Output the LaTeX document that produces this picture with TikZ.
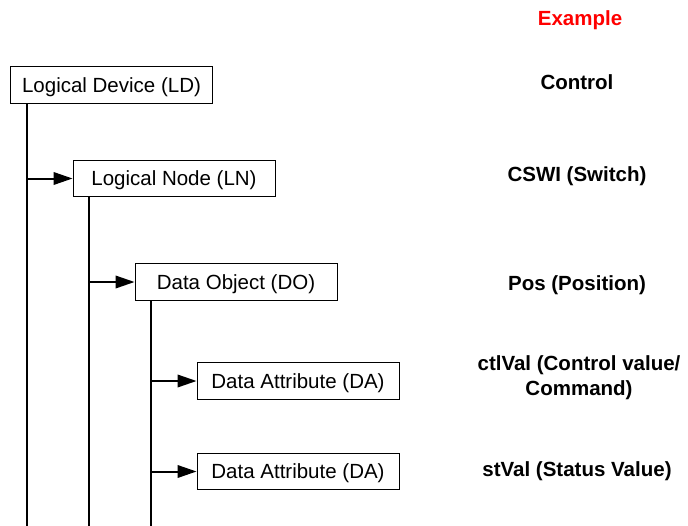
\documentclass[tikz,border=0pt]{standalone}
\usepackage{fontspec}
\setmainfont{Liberation Sans}
\usetikzlibrary{arrows.meta}
\definecolor{exred}{RGB}{255,0,0}
\tikzset{
  levelbox/.style={draw=black, line width=0.9pt, fill=white, inner sep=0pt,
    minimum width=202pt, minimum height=36.5pt, text height=14.7pt, text depth=0pt,
    font=\fontsize{20.5}{24}\selectfont},
  trunk/.style={line width=2pt},
  branch/.style={line width=2pt, -{Triangle[length=19pt,width=12.5pt]}, shorten >=0pt},
  example/.style={font=\fontsize{20.5}{25}\selectfont\bfseries, align=center, inner sep=0pt}
}
\begin{document}
\begin{tikzpicture}[x=1pt,y=-1pt]
  \useasboundingbox (0,0) rectangle (688,525);

  % hierarchy boxes
  \node[levelbox] (LD)  at (111.5,85)  {Logical Device (LD)};
  \node[levelbox] (LN)  at (174,178.5) {Logical Node (LN)};
  \node[levelbox] (DO)  at (236,282)   {Data Object (DO)};
  \node[levelbox] (DA1) at (298,381)   {Data Attribute (DA)};
  \node[levelbox] (DA2) at (298,471.5) {Data Attribute (DA)};

  % lower ends of the vertical trunks
  \coordinate (ldEnd) at (27,527);
  \coordinate (lnEnd) at (89,527);
  \coordinate (doEnd) at (151,527);

  \draw[trunk] (ldEnd |- LD.south) -- (ldEnd);
  \draw[trunk] (lnEnd |- LN.south) -- (lnEnd);
  \draw[trunk] (doEnd |- DO.south) -- (doEnd);

  % branches into child boxes
  \draw[branch] (ldEnd |- LN.west) -- (LN.west);
  \draw[branch] (lnEnd |- DO.west) -- (DO.west);
  \draw[branch] (doEnd |- DA1.west) -- (DA1.west);
  \draw[branch] (doEnd |- DA2.west) -- (DA2.west);

  % example column
  \node[example, text=exred] (exhead) at (580,20) {Example};
  \node[example] (exLD)  at (577,82)  {Control};
  \node[example] (exLN)  at (577,176) {CSWI (Switch)};
  \node[example] (exDO)  at (577,285) {Pos (Position)};
  \node[example] (exDA1) at (579,378) {ctlVal (Control value/\\Command)};
  \node[example] (exDA2) at (577,471) {stVal (Status Value)};
\end{tikzpicture}
\end{document}
